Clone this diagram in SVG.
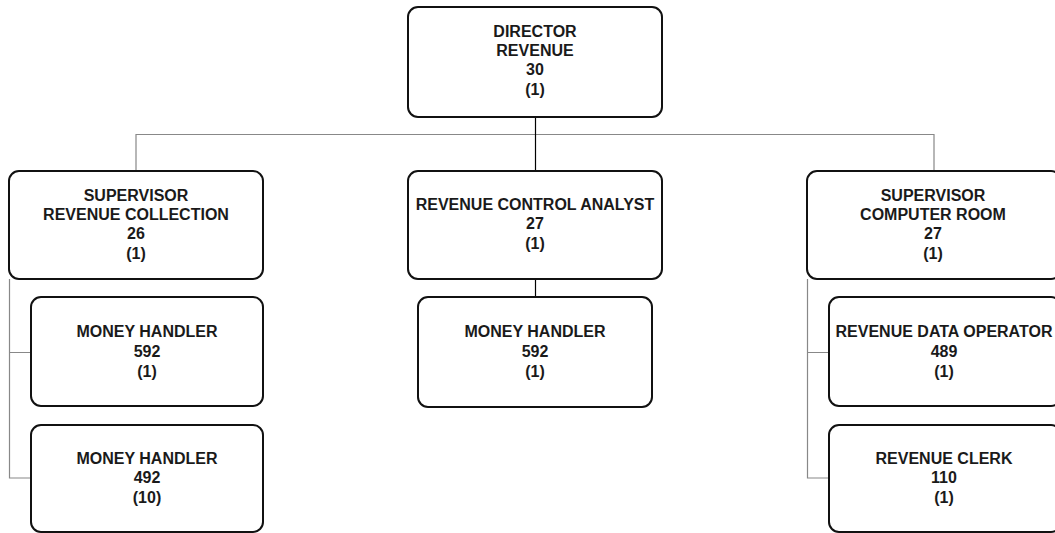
<svg xmlns="http://www.w3.org/2000/svg" width="1055" height="533" viewBox="0 0 1055 533">
<style>
.box{fill:#fff;stroke:#111;stroke-width:2}
.t{font-family:"Liberation Sans",Arial,sans-serif;font-weight:bold;font-size:16px;fill:#1a1a1a;text-anchor:middle}
.c{fill:none;stroke:#888;stroke-width:1.2}
.cb{fill:none;stroke:#000;stroke-width:1.2}
</style>
<rect width="1055" height="533" fill="#fff"/>
<g id="connectors">
<path class="c" d="M136 171V134.5H934V171"/>
<path class="cb" d="M535.5 117V171"/>
<path class="cb" d="M535.5 279V297"/>
<path class="c" d="M9.5 279V478H31M9.5 352.5H31"/>
<path class="c" d="M807.5 279V478H829M807.5 352.5H829"/>
</g>
<g id="director">
<rect class="box" x="408" y="7" width="254" height="110" rx="10"/>
<text class="t" x="535" y="37">DIRECTOR</text>
<text class="t" x="535" y="56">REVENUE</text>
<text class="t" x="535" y="75">30</text>
<text class="t" x="535" y="95">(1)</text>
</g>
<g id="sup-collection">
<rect class="box" x="9" y="171" width="254" height="108" rx="10"/>
<text class="t" x="136" y="201">SUPERVISOR</text>
<text class="t" x="136" y="220">REVENUE COLLECTION</text>
<text class="t" x="136" y="239">26</text>
<text class="t" x="136" y="259">(1)</text>
</g>
<g id="rca">
<rect class="box" x="408" y="171" width="254" height="108" rx="10"/>
<text class="t" x="535" y="210">REVENUE CONTROL ANALYST</text>
<text class="t" x="535" y="229">27</text>
<text class="t" x="535" y="249">(1)</text>
</g>
<g id="sup-computer">
<rect class="box" x="807" y="171" width="254" height="108" rx="10"/>
<text class="t" x="933" y="201">SUPERVISOR</text>
<text class="t" x="933" y="220">COMPUTER ROOM</text>
<text class="t" x="933" y="239">27</text>
<text class="t" x="933" y="259">(1)</text>
</g>
<g id="mh-592-left">
<rect class="box" x="31" y="297" width="232" height="109" rx="10"/>
<text class="t" x="147" y="337">MONEY HANDLER</text>
<text class="t" x="147" y="357">592</text>
<text class="t" x="147" y="377">(1)</text>
</g>
<g id="mh-492">
<rect class="box" x="31" y="425" width="232" height="107" rx="10"/>
<text class="t" x="147" y="464">MONEY HANDLER</text>
<text class="t" x="147" y="483">492</text>
<text class="t" x="147" y="503">(10)</text>
</g>
<g id="mh-592-center">
<rect class="box" x="418" y="297" width="234" height="110" rx="10"/>
<text class="t" x="535" y="337">MONEY HANDLER</text>
<text class="t" x="535" y="357">592</text>
<text class="t" x="535" y="377">(1)</text>
</g>
<g id="rdo">
<rect class="box" x="829" y="297" width="232" height="109" rx="10"/>
<text class="t" x="944" y="337">REVENUE DATA OPERATOR</text>
<text class="t" x="944" y="357">489</text>
<text class="t" x="944" y="377">(1)</text>
</g>
<g id="clerk">
<rect class="box" x="829" y="425" width="232" height="107" rx="10"/>
<text class="t" x="944" y="464">REVENUE CLERK</text>
<text class="t" x="944" y="483">110</text>
<text class="t" x="944" y="503">(1)</text>
</g>
</svg>
